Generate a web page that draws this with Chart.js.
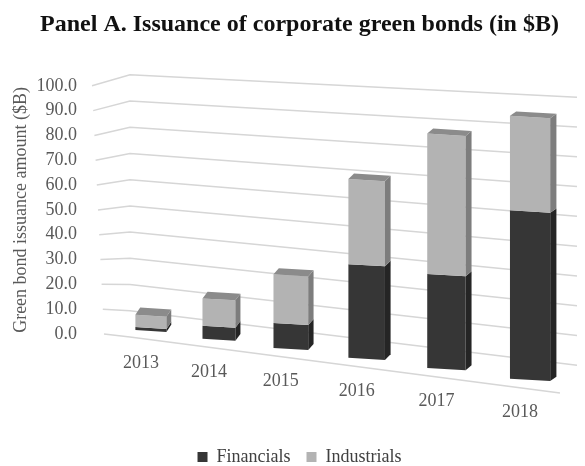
<!DOCTYPE html>
<html>
<head>
<meta charset="utf-8">
<script src="https://cdn.jsdelivr.net/npm/chart.js@4.4.1/dist/chart.umd.min.js"></script>
<style>
  html, body { margin: 0; padding: 0; background: #fff; }
</style>
</head>
<body>
<canvas id="greenBonds" width="585" height="466"></canvas>
<script>
// data ($B)
var years = ['2013', '2014', '2015', '2016', '2017', '2018'];
var financials = [1.1, 4.8, 9.0, 33.0, 32.5, 57.0];
var industrials = [4.6, 10.0, 17.5, 30.0, 48.5, 32.0];
var yTicks = [0, 10, 20, 30, 40, 50, 60, 70, 80, 90, 100];

var serif = '"Liberation Serif", "Times New Roman", serif';
var frontColors = ['#363636', '#b3b3b3'];
var sideColors = ['#252525', '#7d7d7d'];
var topColor = '#8b8b8b';

// fake the excel 3d look: slanted wall grid + boxes
var perspectiveBars = {
    id: 'perspectiveBars',
    beforeDatasetsDraw: function(chart) {
        var ctx = chart.ctx;
        var xs = chart.scales.x, ys = chart.scales.y, area = chart.chartArea;
        var c0 = xs.getPixelForValue(0);
        var span = xs.getPixelForValue(years.length - 1) - c0;
        var zero = ys.getPixelForValue(0);

        // back wall grid lines
        ctx.save();
        ctx.strokeStyle = '#d6d6d6';
        ctx.lineWidth = 1.5;
        ys.ticks.forEach(function(t) {
            var f = t.value / 100;
            var y = ys.getPixelForValue(t.value);
            var x1 = area.left - 21 + 12 * (1 - f);
            var x2 = area.left + 17;
            var y2 = y - (11 * f - 3 * (1 - f));
            var x3 = t.value === 0 ? area.right - 8 : area.right + 9;
            var y3 = y2 + (0.13 - 0.08 * f) * (x3 - x2);
            ctx.beginPath();
            ctx.moveTo(x1, y);
            ctx.lineTo(x2, y2);
            ctx.lineTo(x3, y3);
            ctx.stroke();
        });
        ctx.restore();

        var metas = chart.getSortedVisibleDatasetMetas();
        var k = 0.06, dx = 5.5;
        for (var i = 0; i < years.length; i++) {
            var u = (xs.getPixelForValue(i) - c0) / span;
            var cx = c0 + span * u * (0.871 + 0.129 * u);
            var sx = 0.871 + 0.258 * u;
            var t = (cx - c0) / span;
            var sy = 1.08 + 0.11 * t;
            var base = zero - 3 + 0.129 * (cx - c0);
            var dy = 7 - 3 * u;

            metas.forEach(function(meta, di) {
                var el = meta.data[i];
                var l = el.x - el.width / 2, r = el.x + el.width / 2;
                ctx.save();
                ctx.transform(sx, k * sx, 0, sy, cx - sx * el.x, base - k * sx * el.x - sy * zero);
                el.draw(ctx, area);
                // right side
                ctx.fillStyle = sideColors[di];
                ctx.beginPath();
                ctx.moveTo(r, el.y);
                ctx.lineTo(r + dx, el.y - dy);
                ctx.lineTo(r + dx, el.base - dy);
                ctx.lineTo(r, el.base);
                ctx.closePath();
                ctx.fill();
                // lid on the top segment
                if (di === metas.length - 1) {
                    ctx.fillStyle = topColor;
                    ctx.beginPath();
                    ctx.moveTo(l, el.y);
                    ctx.lineTo(l + dx, el.y - dy);
                    ctx.lineTo(r + dx, el.y - dy);
                    ctx.lineTo(r, el.y);
                    ctx.closePath();
                    ctx.fill();
                }
                ctx.restore();
            });

            // year under the box
            ctx.save();
            ctx.font = '18px ' + serif;
            ctx.fillStyle = '#595959';
            ctx.textAlign = 'center';
            ctx.textBaseline = 'middle';
            ctx.fillText(chart.data.labels[i], cx - 10, base + 32);
            ctx.restore();
        }
        return false;
    }
};

var chart = new Chart(document.getElementById('greenBonds'), {
    type: 'bar',
    data: {
        labels: years,
        datasets: [{
            label: 'Financials',
            data: financials,
            backgroundColor: frontColors[0],
            borderWidth: 0
        }, {
            label: 'Industrials',
            data: industrials,
            backgroundColor: frontColors[1],
            borderWidth: 0
        }]
    },
    plugins: [perspectiveBars],
    options: {
        responsive: false,
        animation: false,
        events: [],
        categoryPercentage: 1,
        barPercentage: 0.47,
        layout: { padding: { left: 14, right: 0, top: 0, bottom: -10 } },
        plugins: {
            title: {
                display: true,
                text: 'Panel A. Issuance of corporate green bonds (in $B)',
                color: '#111',
                font: { family: serif, size: 24, weight: 'bold' },
                padding: { top: 10, bottom: 47 }
            },
            legend: {
                position: 'bottom',
                labels: {
                    color: '#404040',
                    font: { family: serif, size: 18 },
                    boxWidth: 10,
                    boxHeight: 10,
                    padding: 16
                }
            },
            tooltip: { enabled: false }
        },
        scales: {
            x: {
                stacked: true,
                offset: true,
                grid: { display: false },
                border: { display: false },
                ticks: { display: false },
                afterFit: function(scale) { scale.height = 98; }
            },
            y: {
                stacked: true,
                min: 0,
                max: 100,
                afterBuildTicks: function(scale) {
                    scale.ticks = yTicks.map(function(v) { return { value: v }; });
                },
                afterFit: function(scale) { scale.width = 99; },
                grid: { display: false },
                border: { display: false },
                ticks: {
                    autoSkip: false,
                    padding: 28,
                    color: '#595959',
                    font: { family: serif, size: 18 },
                    callback: function(value) { return value.toFixed(1); }
                },
                title: {
                    display: true,
                    text: 'Green bond issuance amount ($B)',
                    color: '#595959',
                    font: { family: serif, size: 18 },
                    padding: { top: -4, bottom: 0 }
                }
            },
            // empty strip on the right, keeps the plot where the panel has it
            yRight: {
                position: 'right',
                display: true,
                grid: { display: false },
                border: { display: false },
                ticks: { display: false },
                afterFit: function(scale) { scale.width = 17; }
            }
        }
    }
});
</script>
</body>
</html>
